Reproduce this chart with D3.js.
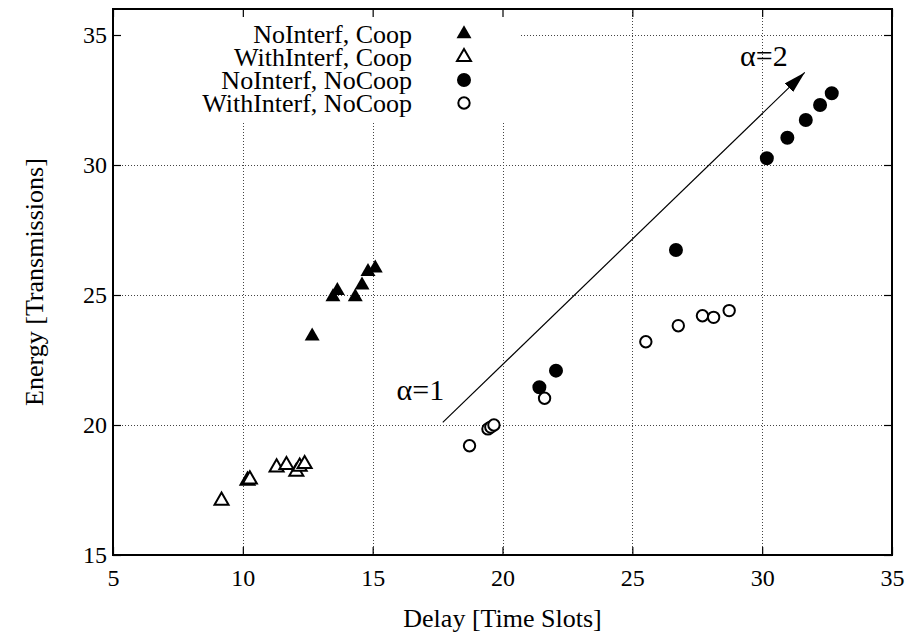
<!DOCTYPE html>
<html>
<head>
<meta charset="utf-8">
<script src="https://cdn.jsdelivr.net/npm/d3@7/dist/d3.min.js"></script>
<style>
  html, body { margin: 0; padding: 0; background: #fff; }
  svg { display: block; }
  text { font-family: "Liberation Serif", "Times New Roman", serif; fill: #000; }
</style>
</head>
<body>
<svg id="chart" width="907" height="636"></svg>
<script>
// Delay / energy pairs for each protocol configuration
const noInterfCoopDelay   = [12.67, 13.47, 13.64, 14.33, 14.59, 14.82, 15.10];
const noInterfCoopEnergy  = [23.42, 24.93, 25.17, 24.93, 25.38, 25.90, 26.03];

const withInterfCoopDelay  = [9.18, 10.18, 10.27, 11.30, 11.68, 12.06, 12.19, 12.38];
const withInterfCoopEnergy = [17.09, 17.86, 17.91, 18.37, 18.46, 18.20, 18.40, 18.50];

const noInterfNoCoopDelay  = [21.42, 22.06, 26.68, 30.18, 30.97, 31.68, 32.23, 32.68];
const noInterfNoCoopEnergy = [21.45, 22.09, 26.73, 30.26, 31.05, 31.73, 32.31, 32.76];

const withInterfNoCoopDelay  = [18.73, 19.44, 19.55, 19.67, 21.62, 25.52, 26.77, 27.70, 28.13, 28.73];
const withInterfNoCoopEnergy = [19.20, 19.85, 19.92, 20.00, 21.03, 23.20, 23.82, 24.20, 24.14, 24.40];

const seriesNames = ["NoInterf, Coop", "WithInterf, Coop", "NoInterf, NoCoop", "WithInterf, NoCoop"];

const xTicks = [5, 10, 15, 20, 25, 30, 35];
const yTicks = [15, 20, 25, 30, 35];

// Trend arrow from alpha = 1 to alpha = 2 (data units)
const arrowFrom = [17.7, 20.1];
const arrowTo   = [31.64, 33.56];

const svg = d3.select("#chart");
const pLeft = 113, pRight = 892, pTop = 9, pBottom = 555;

const x = d3.scaleLinear().domain([5, 35]).range([pLeft, pRight]);
const y = d3.scaleLinear().domain([15, 36]).range([pBottom, pTop]);

const zip = (a, b) => a.map((v, i) => [v, b[i]]);
const series = [
  { name: seriesNames[0], pts: zip(noInterfCoopDelay, noInterfCoopEnergy), shape: d3.symbolTriangle, filled: true },
  { name: seriesNames[1], pts: zip(withInterfCoopDelay, withInterfCoopEnergy), shape: d3.symbolTriangle, filled: false },
  { name: seriesNames[2], pts: zip(noInterfNoCoopDelay, noInterfNoCoopEnergy), shape: d3.symbolCircle, filled: true },
  { name: seriesNames[3], pts: zip(withInterfNoCoopDelay, withInterfNoCoopEnergy), shape: d3.symbolCircle, filled: false }
];

// Marker areas (d3 symbol size = area in px²)
function symSize(s) {
  if (s.shape === d3.symbolTriangle) return s.filled ? 97 : 85;
  return s.filled ? 154 : 102;
}

// Dotted grid
const grid = svg.append("g").attr("stroke", "#444").attr("stroke-width", 1).attr("stroke-dasharray", "1,2");
grid.selectAll("line.gx").data(xTicks.slice(1, -1)).join("line")
  .attr("x1", d => Math.round(x(d)) + 0.5).attr("x2", d => Math.round(x(d)) + 0.5)
  .attr("y1", pTop).attr("y2", pBottom);
grid.selectAll("line.gy").data(yTicks.slice(1)).join("line")
  .attr("y1", d => Math.round(y(d)) + 0.5).attr("y2", d => Math.round(y(d)) + 0.5)
  .attr("x1", pLeft).attr("x2", pRight);

// Legend background hides the grid behind the key
svg.append("rect").attr("x", pLeft + 1).attr("y", pTop + 1)
  .attr("width", 518 - pLeft).attr("height", 122 - pTop).attr("fill", "#fff");

// Axes with inward ticks, mirrored on all four sides
const tick = 8;
const xAxisB = d3.axisBottom(x).tickValues(xTicks).tickSizeInner(-tick).tickSizeOuter(0).tickPadding(14);
const yAxisL = d3.axisLeft(y).tickValues(yTicks).tickSizeInner(-tick).tickSizeOuter(0).tickPadding(6);
const xAxisT = d3.axisTop(x).tickValues(xTicks).tickSizeInner(-tick).tickSizeOuter(0).tickFormat("");
const yAxisR = d3.axisRight(y).tickValues(yTicks).tickSizeInner(-tick).tickSizeOuter(0).tickFormat("");

function styleAxis(g) {
  g.select(".domain").remove();
  g.selectAll(".tick line").attr("stroke", "#000").attr("stroke-width", 1.2);
  g.selectAll(".tick text").attr("font-size", 24).attr("font-family", "Liberation Serif");
}
svg.append("g").attr("transform", `translate(0,${pBottom})`).call(xAxisB).call(styleAxis);
svg.append("g").attr("transform", `translate(${pLeft},0)`).call(yAxisL).call(styleAxis);
svg.append("g").attr("transform", `translate(0,${pTop})`).call(xAxisT).call(styleAxis);
svg.append("g").attr("transform", `translate(${pRight},0)`).call(yAxisR).call(styleAxis);

// Frame
svg.append("rect").attr("x", pLeft).attr("y", pTop)
  .attr("width", pRight - pLeft).attr("height", pBottom - pTop)
  .attr("fill", "none").attr("stroke", "#000").attr("stroke-width", 2);

// Axis titles
svg.append("text").attr("x", (pLeft + pRight) / 2).attr("y", 627)
  .attr("text-anchor", "middle").attr("font-size", 26).text("Delay [Time Slots]");
svg.append("text").attr("transform", `translate(43,${(pTop + pBottom) / 2}) rotate(-90)`)
  .attr("text-anchor", "middle").attr("font-size", 26).text("Energy [Transmissions]");

// Arrow
const defs = svg.append("defs");
defs.append("marker").attr("id", "head").attr("viewBox", "0 0 22 12")
  .attr("refX", 22).attr("refY", 6).attr("markerWidth", 22).attr("markerHeight", 12)
  .attr("markerUnits", "userSpaceOnUse").attr("orient", "auto")
  .append("path").attr("d", "M0,0 L22,6 L0,12 Z").attr("fill", "#000");
svg.append("line")
  .attr("x1", x(arrowFrom[0])).attr("y1", y(arrowFrom[1]))
  .attr("x2", x(arrowTo[0])).attr("y2", y(arrowTo[1]))
  .attr("stroke", "#000").attr("stroke-width", 1.2).attr("marker-end", "url(#head)");

svg.append("text").attr("x", x(15.92)).attr("y", y(20.96)).attr("font-size", 30).text("α=1");
svg.append("text").attr("x", x(29.15)).attr("y", y(33.8)).attr("font-size", 30).text("α=2");

// Points
series.forEach(s => {
  const sym = d3.symbol().type(s.shape).size(symSize(s));
  svg.append("g").selectAll("path").data(s.pts).join("path")
    .attr("d", sym)
    .attr("transform", d => `translate(${x(d[0])},${y(d[1])})`)
    .attr("fill", s.filled ? "#000" : "#fff")
    .attr("stroke", "#000").attr("stroke-width", s.filled ? 0 : 2);
});

// Legend
const legend = svg.append("g");
series.forEach((s, i) => {
  const ly = 34 + i * 23;
  legend.append("text").attr("x", 412).attr("y", ly).attr("dy", "0.35em")
    .attr("text-anchor", "end").attr("font-size", 26).text(s.name);
  legend.append("path")
    .attr("d", d3.symbol().type(s.shape).size(symSize(s)))
    .attr("transform", `translate(464,${ly})`)
    .attr("fill", s.filled ? "#000" : "#fff")
    .attr("stroke", "#000").attr("stroke-width", s.filled ? 0 : 2);
});
</script>
</body>
</html>
